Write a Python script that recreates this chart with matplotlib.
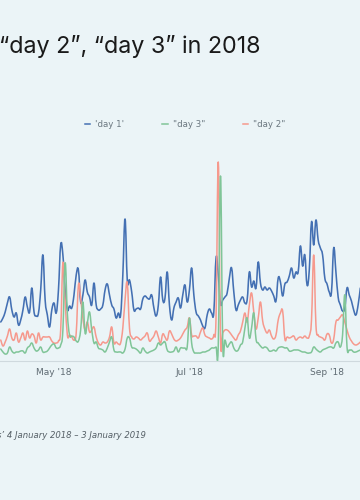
import numpy as np
import pandas as pd
import matplotlib
matplotlib.use('Agg')
import matplotlib.pyplot as plt
import matplotlib.dates as mdates
from matplotlib.path import Path
from matplotlib.patches import PathPatch
from matplotlib.lines import Line2D

# daily values, 7 Apr 2018 onwards (the chart is a crop of a longer year)
start = '2018-04-07'
day1 = [39, 43, 49, 58, 64, 51, 44, 48, 36, 41, 51, 64, 54, 49, 73, 49, 45, 48, 71, 106,
        61, 46, 34, 51, 58, 48, 71, 116, 106, 71, 51, 55, 53, 66, 86, 91, 59, 66, 81, 69,
        64, 56, 78, 56, 51, 52, 56, 71, 77, 66, 56, 52, 43, 48, 46, 86, 142, 81, 81, 69,
        51, 52, 53, 52, 62, 65, 63, 62, 66, 53, 45, 56, 84, 61, 63, 89, 56, 41, 53, 59,
        63, 53, 66, 76, 59, 71, 93, 66, 49, 45, 41, 35, 33, 46, 52, 48, 49, 103, 86, 57,
        61, 64, 68, 83, 93, 69, 51, 56, 61, 64, 58, 61, 89, 74, 80, 73, 99, 78, 71, 74,
        71, 73, 70, 65, 60, 83, 79, 65, 77, 79, 85, 93, 83, 89, 89, 115, 95, 106, 76, 91,
        139, 116, 141, 121, 113, 106, 83, 77, 69, 69, 113, 89, 64, 56, 50, 53, 73, 66, 60, 51,
        46, 56, 73]
day2 = [21, 15, 19, 25, 32, 23, 21, 28, 19, 23, 28, 21, 30, 23, 27, 25, 18, 28, 21, 24,
        24, 24, 24, 20, 18, 18, 20, 31, 98, 61, 26, 26, 24, 21, 28, 76, 63, 43, 31, 39,
        29, 31, 34, 24, 18, 16, 19, 18, 19, 24, 34, 18, 19, 17, 18, 33, 61, 78, 33, 24,
        22, 24, 23, 21, 23, 25, 28, 20, 22, 25, 30, 24, 18, 27, 24, 21, 30, 27, 22, 20,
        21, 23, 27, 31, 34, 43, 26, 25, 25, 23, 29, 33, 26, 24, 23, 22, 26, 44, 199, 24,
        28, 31, 31, 29, 26, 23, 21, 26, 30, 39, 48, 39, 56, 68, 49, 32, 43, 59, 40, 32,
        28, 31, 25, 22, 26, 41, 48, 50, 22, 24, 23, 24, 25, 21, 23, 24, 23, 25, 23, 25,
        41, 106, 36, 26, 24, 23, 21, 27, 26, 18, 22, 39, 41, 44, 46, 39, 31, 24, 20, 17,
        16, 17, 19]
day3 = [12, 9, 7, 8, 14, 10, 8, 9, 9, 10, 10, 8, 13, 15, 18, 13, 10, 11, 14, 9,
        9, 10, 13, 16, 17, 13, 13, 16, 31, 98, 48, 26, 25, 24, 20, 20, 31, 59, 28, 38,
        49, 31, 18, 19, 13, 12, 11, 9, 13, 19, 24, 11, 9, 9, 9, 8, 12, 23, 23, 14,
        13, 12, 10, 8, 13, 10, 8, 9, 10, 11, 13, 18, 16, 18, 19, 11, 9, 9, 10, 14,
        9, 13, 13, 13, 14, 43, 18, 9, 8, 8, 8, 9, 9, 10, 11, 13, 13, 14, 16, 185,
        18, 21, 14, 17, 19, 13, 10, 11, 16, 19, 33, 43, 23, 33, 48, 22, 18, 15, 13, 14,
        13, 10, 10, 11, 10, 13, 14, 14, 13, 13, 10, 10, 11, 11, 11, 10, 9, 9, 8, 8,
        9, 14, 12, 10, 9, 11, 12, 13, 14, 14, 13, 18, 19, 14, 26, 66, 14, 11, 11, 9,
        9, 10, 11]
labels = ["'day 1'", '"day 3"', '"day 2"']
colors = ['#4470b3', '#80c598', '#f6998d']
title = '\u201cday 2\u201d, \u201cday 3\u201d in 2018'
caption = 's\u2019 4 January 2018 \u2013 3 January 2019'

dates = pd.date_range(start, periods=len(day1), freq='D')
bg = '#ebf4f7'


def spline_line(ax, x, y, color, lw):
    # smooth curve through the points (cubic bezier segments, like a plotly spline)
    x = np.asarray(x, float)
    y = np.asarray(y, float)
    verts = [(x[0], y[0])]
    codes = [Path.MOVETO]
    k = 0.2
    for i in range(len(x) - 1):
        x0, y0 = (x[i - 1], y[i - 1]) if i > 0 else (x[i], y[i])
        x3, y3 = (x[i + 2], y[i + 2]) if i + 2 < len(x) else (x[i + 1], y[i + 1])
        c1 = (x[i] + k * (x[i + 1] - x0), y[i] + k * (y[i + 1] - y0))
        c2 = (x[i + 1] - k * (x3 - x[i]), y[i + 1] - k * (y3 - y[i]))
        verts += [c1, c2, (x[i + 1], y[i + 1])]
        codes += [Path.CURVE4] * 3
    ax.add_patch(PathPatch(Path(verts, codes), fill=False, edgecolor=color, lw=lw,
                           capstyle='round', joinstyle='round'))


fig = plt.figure(figsize=(3.6, 5.0), dpi=100, facecolor=bg)
ax = fig.add_axes([0, 0.278, 1, 0.442], facecolor=bg)

xd = mdates.date2num(dates)
spline_line(ax, xd, day1, colors[0], 1.15)
spline_line(ax, xd, day2, colors[2], 1.1)
spline_line(ax, xd, day3, colors[1], 1.1)

ax.set_xlim(pd.Timestamp(start) - pd.Timedelta(hours=8), pd.Timestamp(start) + pd.Timedelta(days=161.85))
ax.set_ylim(0, 221)
for s in ['top', 'left', 'right']:
    ax.spines[s].set_visible(False)
ax.spines['bottom'].set_color('#cfd9de')
ax.set_yticks([])
ax.xaxis.set_major_locator(mdates.MonthLocator(bymonth=[5, 7, 9]))
ax.xaxis.set_major_formatter(mdates.DateFormatter("%b '%y"))
ax.tick_params(axis='x', length=0, pad=5, labelsize=6.5, labelcolor='#5f6b73')

handles = [Line2D([], [], color=colors[i], lw=1.1) for i in range(3)]
leg = ax.legend(handles=handles, labels=labels, loc='lower left', bbox_to_anchor=(0.215, 1.015),
                ncol=3, frameon=False, fontsize=6.2, handlelength=0.6,
                handletextpad=0.6, columnspacing=4.4, labelcolor='#6b7780')

fig.text(-0.002, 0.893, title, fontsize=16.8, family='Inter', color='#1a1a1a', va='baseline')
fig.text(-0.008, 0.124, caption, fontsize=6.1, style='italic', color='#555f66', va='baseline')

fig.savefig('out.png', dpi=100, facecolor=bg)
